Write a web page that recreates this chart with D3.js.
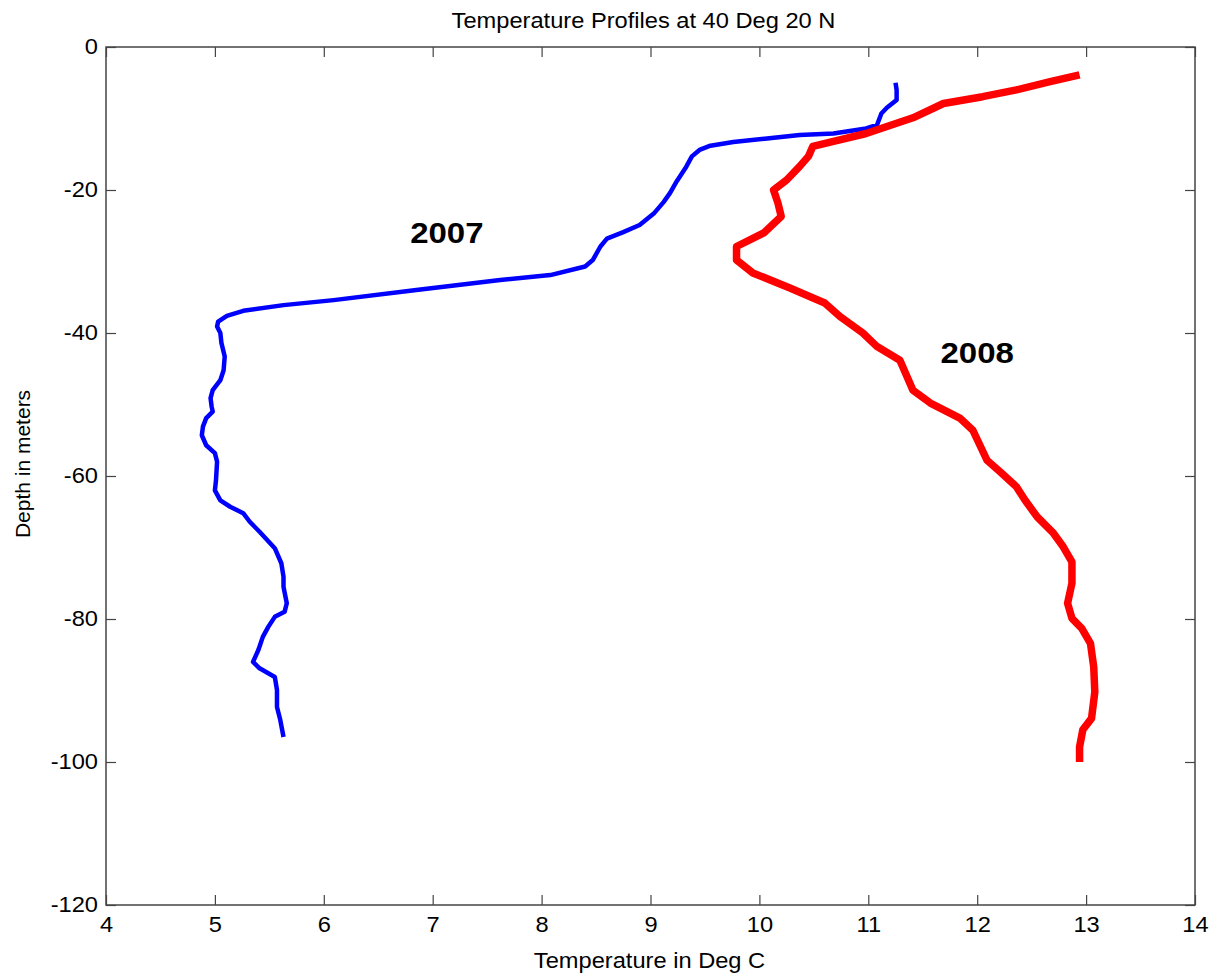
<!DOCTYPE html>
<html>
<head>
<meta charset="utf-8">
<script src="https://cdn.jsdelivr.net/npm/d3@7"></script>
<style>
  body { margin: 0; background: #fff; }
  svg text { font-family: "Liberation Sans", Arial, Helvetica, sans-serif; fill: #000; }
</style>
</head>
<body>
<div id="graphicContainer"></div>
<script>

// 2007 profile: temperature (deg C) and depth (m)
var temp2007 = [11.25, 11.26, 11.26, 11.17, 11.12, 11.08, 10.98, 10.68, 10.37, 10.07, 9.76, 9.55, 9.45, 9.38, 9.33,
	9.24, 9.18, 9.12, 9.03, 8.90, 8.75, 8.60, 8.54, 8.47, 8.40, 8.08, 7.62, 6.85, 6.09, 5.63, 5.26, 5.11, 5.03,
	5.02, 5.05, 5.06, 5.09, 5.08, 5.05, 4.98, 4.96, 4.97, 4.98, 4.92, 4.89, 4.88, 4.92, 5.00, 5.02, 5.01, 5.00,
	5.05, 5.14, 5.26, 5.32, 5.41, 5.55, 5.61, 5.63, 5.63, 5.66, 5.64, 5.55, 5.49, 5.44, 5.40, 5.35, 5.41, 5.55,
	5.57, 5.57, 5.60, 5.63];
var depth2007 = [-5.0, -6.0, -7.4, -8.5, -9.3, -10.9, -11.4, -12.1, -12.3, -12.8, -13.3, -13.8, -14.4, -15.3, -16.7,
	-18.8, -20.4, -21.7, -23.3, -24.9, -25.9, -26.8, -27.9, -29.8, -30.7, -31.9, -32.6, -34.0, -35.4, -36.1, -36.9, -37.6, -38.4,
	-39.1, -40.0, -41.4, -43.3, -45.2, -46.6, -48.0, -49.1, -50.3, -51.0, -51.9, -53.1, -54.3, -55.7, -56.8, -58.0, -60.6, -62.0,
	-63.4, -64.3, -65.2, -66.4, -67.8, -70.1, -72.2, -74.1, -75.5, -77.8, -79.0, -79.7, -81.1, -82.5, -84.3, -86.0, -86.9, -88.1,
	-89.9, -92.3, -94.1, -96.5];

// 2008 profile
var temp2008 = [12.94, 12.67, 12.36, 12.05, 11.69, 11.41, 10.98, 10.68, 10.49, 10.45, 10.37, 10.25, 10.13, 10.17,
	10.20, 10.04, 9.79, 9.79, 9.94, 10.28, 10.60, 10.74, 10.95, 11.08, 11.29, 11.41, 11.57, 11.84, 11.96, 12.09,
	12.21, 12.36, 12.44, 12.55, 12.70, 12.79, 12.87, 12.87, 12.83, 12.87, 12.96, 13.04, 13.07, 13.08, 13.05,
	12.97, 12.94, 12.94];
var depth2008 = [-3.9, -4.85, -6.0, -6.95, -7.9, -9.9, -12.1, -13.2, -13.9, -15.3, -16.7, -18.6, -20.0, -21.8,
	-23.7, -26.0, -27.9, -29.8, -31.6, -33.7, -35.8, -37.7, -40.0, -41.9, -43.8, -48.0, -49.8, -51.9, -53.6, -57.8,
	-59.4, -61.5, -63.4, -65.7, -68.0, -69.9, -72.0, -75.0, -77.8, -79.9, -81.3, -83.4, -86.7, -90.2, -93.9,
	-95.5, -97.9, -100.0];

var xTicks = [4, 5, 6, 7, 8, 9, 10, 11, 12, 13, 14];
var yTicks = [0, -20, -40, -60, -80, -100, -120];

var series = [
	{ name: "2007", temp: temp2007, depth: depth2007, color: "#0000ff", width: 4.5, labelT: 7.13, labelD: -27.4 },
	{ name: "2008", temp: temp2008, depth: depth2008, color: "#ff0000", width: 7.5, labelT: 12.0, labelD: -44.2 }
];

var w = 1211, h = 977;
var margin = {top: 47, right: 16, bottom: 72, left: 106},
    width = w - margin.left - margin.right,
    height = h - margin.top - margin.bottom;

var x = d3.scaleLinear().domain([4, 14]).range([0, width]);
var y = d3.scaleLinear().domain([-120, 0]).range([height, 0]);

var svg = d3.select("#graphicContainer").append("svg")
    .attr("width", w)
    .attr("height", h)
  .append("g")
    .attr("transform", "translate(" + margin.left + "," + margin.top + ")");

// plain hyphen minus, like the original
var fmt = function(d) { return String(d); };

// box axes, ticks pointing inward on all four sides
var axisColor = "#444";
function styleAxis(g) {
	g.select(".domain").remove();
	g.selectAll(".tick line").attr("stroke", axisColor).attr("stroke-width", 1.2);
	g.selectAll(".tick text").attr("class", "wide").style("font-size", "21.5px").attr("fill", "#000");
}

svg.append("g")
	.attr("class", "x axis")
	.attr("transform", "translate(0," + height + ")")
	.call(d3.axisBottom(x).tickValues(xTicks).tickFormat(fmt).tickSizeInner(-10).tickSizeOuter(0).tickPadding(12))
	.call(styleAxis);

svg.append("g")
	.attr("class", "x axis top")
	.call(d3.axisTop(x).tickValues(xTicks).tickSizeInner(-10).tickSizeOuter(0).tickFormat(""))
	.call(styleAxis);

svg.append("g")
	.attr("class", "y axis")
	.call(d3.axisLeft(y).tickValues(yTicks).tickFormat(fmt).tickSizeInner(-10).tickSizeOuter(0).tickPadding(8))
	.call(styleAxis);

svg.append("g")
	.attr("class", "y axis right")
	.attr("transform", "translate(" + width + ",0)")
	.call(d3.axisRight(y).tickValues(yTicks).tickSizeInner(-10).tickSizeOuter(0).tickFormat(""))
	.call(styleAxis);

svg.append("rect")
	.attr("width", width)
	.attr("height", height)
	.attr("fill", "none")
	.attr("stroke", axisColor)
	.attr("stroke-width", 1.5);

// profiles
var valueline = d3.line()
	.x(function(d) { return x(d[0]); })
	.y(function(d) { return y(d[1]); });

series.forEach(function(s) {
	var pts = s.temp.map(function(t, i) { return [t, s.depth[i]]; });
	svg.append("path")
		.datum(pts)
		.attr("fill", "none")
		.attr("stroke", s.color)
		.attr("stroke-width", s.width)
		.attr("stroke-linejoin", "round")
		.attr("d", valueline);

	svg.append("text")
		.attr("class", "wide")
		.attr("x", x(s.labelT))
		.attr("y", y(s.labelD))
		.attr("text-anchor", "middle")
		.style("font-size", "30px")
		.style("font-weight", "bold")
		.text(s.name);
});

// titles
svg.append("text")
	.attr("class", "wide")
	.attr("x", width / 2 - 7)
	.attr("y", -19)
	.attr("text-anchor", "middle")
	.style("font-size", "21.5px")
	.text("Temperature Profiles at 40 Deg 20 N");

svg.append("text")
	.attr("class", "wide")
	.attr("x", width / 2 - 1)
	.attr("y", height + 63)
	.attr("text-anchor", "middle")
	.style("font-size", "21.5px")
	.text("Temperature in Deg C");

svg.append("text")
	.attr("transform", "translate(" + (-76) + "," + 417 + ") rotate(-90)")
	.attr("text-anchor", "middle")
	.style("font-size", "21px")
	.text("Depth in meters");

// the original picture is stretched sideways a little, so widen horizontal text
svg.selectAll("text.wide").each(function() {
	var len = this.getComputedTextLength();
	if (len > 0) {
		d3.select(this).attr("textLength", len * 1.1).attr("lengthAdjust", "spacingAndGlyphs");
	}
});

</script>
</body>
</html>
